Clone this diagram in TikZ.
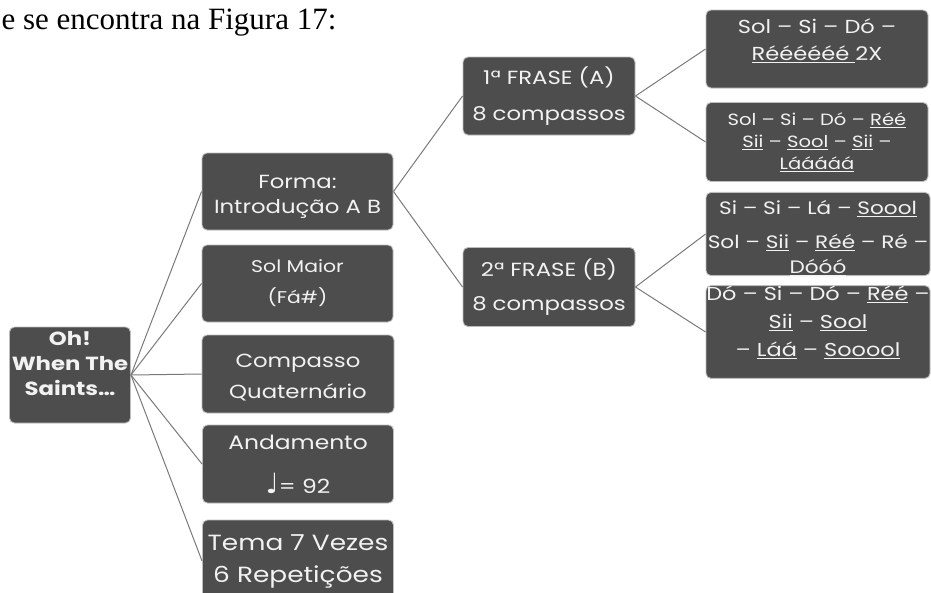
\documentclass[tikz,border=0pt]{standalone}
\usepackage{fontspec}
\setmainfont{Poppins}[FakeStretch=1.2]
\newfontfamily\refserif{Liberation Serif}
\newfontfamily\symfont{DejaVu Sans}
\definecolor{boxfill}{HTML}{4D4D4D}
\definecolor{boxline}{HTML}{BDBDBD}
\definecolor{linkc}{HTML}{7A7A7A}
\definecolor{txt}{HTML}{F2F2F2}
\newcommand{\ul}[1]{\underline{#1}}
\newcommand{\topstrut}[1]{\rule{0pt}{#1}}
\newcommand{\botstrut}[1]{\rule[-#1]{0pt}{0pt}}
\tikzset{
  mbox/.style={draw=boxline, line width=0.9pt, fill=boxfill, rounded corners=5pt,
    text=txt, align=center, inner sep=0pt, font=\fontsize{19}{27}\selectfont},
  link/.style={draw=linkc, line width=1pt},
}
\begin{document}
\begin{tikzpicture}[x=1pt,y=-1pt]
\useasboundingbox (0,0) rectangle (931,592);
\node[anchor=base west, font=\refserif\fontsize{31}{34}\selectfont] (cap) at (-2,29) {e se encontra na Figura 17:};

\node[mbox, minimum width=121pt, minimum height=96pt, font=\bfseries\fontsize{19}{25}\selectfont] (root) at (70,375) {Oh!\\When The\\Saints\ldots\\[-1pt]};

\node[mbox, minimum width=191pt, minimum height=77pt, font=\fontsize{19}{25}\selectfont] (forma) at (297.5,191.5) {\topstrut{24pt}Forma:\\Introdução A B};
\node[mbox, minimum width=191pt, minimum height=77pt, font=\fontsize{17}{31}\selectfont] (sol) at (297.5,283.5) {Sol Maior\\(Fá\#)};
\node[mbox, minimum width=192pt, minimum height=78pt, font=\fontsize{19}{31}\selectfont] (comp) at (298,374) {\topstrut{21pt}Compasso\\Quaternário};
\node[mbox, minimum width=191pt, minimum height=78pt, font=\fontsize{19.5}{44}\selectfont] (and) at (298,464) {Andamento\\{\symfont\fontsize{28}{28}\selectfont ♩}= 92};
\node[mbox, minimum width=191pt, minimum height=82pt, font=\fontsize{22}{32}\selectfont] (tema) at (298,561) {Tema 7 Vezes\\6 Repetições};

\node[mbox, minimum width=172pt, minimum height=78pt, font=\fontsize{19}{36}\selectfont] (f1) at (549,96) {1ª FRASE (A)\\8 compassos};
\node[mbox, minimum width=172pt, minimum height=79pt, font=\fontsize{19}{34}\selectfont] (f2) at (549,287) {2ª FRASE (B)\\8 compassos};

\node[mbox, minimum width=222pt, minimum height=78pt, font=\fontsize{18.8}{27}\selectfont] (r1) at (817,49) {Sol – Si – Dó –\\\ul{Réééééé }2X\botstrut{19pt}};
\node[mbox, minimum width=222pt, minimum height=79pt, font=\fontsize{16.3}{22}\selectfont] (r2) at (817,142) {Sol – Si – Dó – \ul{Réé}\\\ul{Sii} – \ul{Sool} – \ul{Sii} –\\\ul{Lááááá}};
\node[mbox, minimum width=224pt, minimum height=78pt, font=\fontsize{18}{34}\selectfont] (r3) at (818,234) {\topstrut{22pt}Si – Si – Lá – \ul{Soool}\\Sol – \ul{Sii} – \ul{Réé} – Ré –\\[-9pt]\ul{Dóóó}};
\node[mbox, minimum width=224pt, minimum height=91pt, font=\fontsize{18.7}{28}\selectfont] (r4) at (818,332) {Dó – Si – Dó – \ul{Réé} –\\\ul{Sii} – \ul{Sool}\\– \ul{Láá} – \ul{Sooool}\\[-6pt]};

\foreach \n in {forma,sol,comp,and,tema}{\draw[link] (root.east) -- (\n.west);}
\draw[link] (forma.east) -- (f1.west);
\draw[link] (forma.east) -- (f2.west);
\draw[link] (f1.east) -- (r1.west);
\draw[link] (f1.east) -- (r2.west);
\draw[link] (f2.east) -- (r3.west);
\draw[link] (f2.east) -- (r4.west);
\end{tikzpicture}
\end{document}
